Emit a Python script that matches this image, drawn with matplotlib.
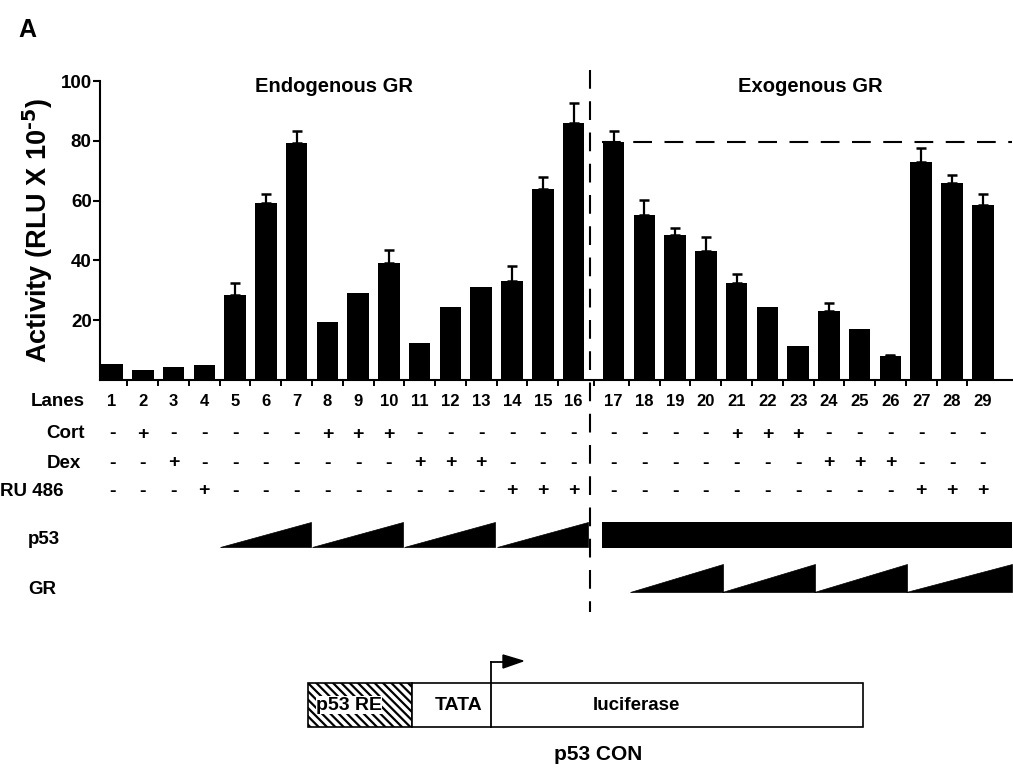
import numpy as np
import matplotlib
matplotlib.use('Agg')
import matplotlib.pyplot as plt
from matplotlib.patches import Polygon, Rectangle
from matplotlib.transforms import blended_transform_factory

plt.rcParams['font.family'] = ['Liberation Sans', 'DejaVu Sans']
plt.rcParams['font.weight'] = 'bold'
plt.rcParams['hatch.linewidth'] = 1.6

lanes = list(range(1, 30))
activity = [5.4, 3.4, 4.4, 5.0, 28.4, 59.2, 79.3, 19.5, 29.0, 39.0, 12.5, 24.5, 31.0, 33.0, 64.0, 86.0,
            79.6, 55.2, 48.5, 43.2, 32.3, 24.5, 11.3, 23.2, 17.1, 7.9, 72.8, 65.8, 58.4]
err = [0, 0, 0, 0, 4.0, 3.0, 4.0, 0, 0, 4.5, 0, 0, 0, 5.0, 4.0, 6.5,
       3.7, 5.0, 2.5, 4.6, 3.1, 0, 0, 2.6, 0, 0.6, 4.9, 2.8, 3.7]
cort = [2, 8, 9, 10, 21, 22, 23]
dex = [3, 11, 12, 13, 24, 25, 26]
ru486 = [4, 14, 15, 16, 27, 28, 29]
p53_groups = [(5, 7), (8, 10), (11, 13), (14, 16)]
gr_groups = [(18, 20), (21, 23), (24, 26), (27, 29)]

W, H = 1013, 771
fig = plt.figure(figsize=(W / 100, H / 100), dpi=100)

# lane positions: small extra gap between endogenous and exogenous halves
x = np.array([l - 1 + (0.3 if l > 16 else 0) for l in lanes], dtype=float)
xmin, xmax = -0.39, 29.25

ax = fig.add_axes([100 / W, 1 - 380 / H, (1012 - 100) / W, (380 - 81) / H])
ax.set_facecolor('none')
ax.bar(x, activity, width=0.7, color='black', zorder=2)
m = np.array(err) > 0
ax.errorbar(x[m], np.array(activity)[m], yerr=[np.zeros(m.sum()), np.array(err)[m]],
            fmt='none', ecolor='black', elinewidth=1.6, capsize=3.5, capthick=1.8, zorder=1)
ax.set_xlim(xmin, xmax)
ax.set_ylim(0, 100)
ax.set_yticks([20, 40, 60, 80, 100])
ax.set_yticklabels(['20', '40', '60', '80', '100'], fontsize=13.5, fontweight='bold')
ax.set_xticks([])
ax.set_xticks((x[:-1] + x[1:]) / 2, minor=True)
ax.tick_params(axis='x', which='minor', length=4, width=1.4, direction='out')
ax.tick_params(axis='y', length=5, width=1.5, pad=1)
for s in ['top', 'right']:
    ax.spines[s].set_visible(False)
ax.spines['left'].set_linewidth(1.5)
ax.spines['bottom'].set_linewidth(1.5)
ax.set_ylabel('Activity (RLU X 10$^{\\mathbf{\\text{-5}}}$)', fontsize=19.5, fontweight='bold', labelpad=4)

ax.text(7.2, 98, 'Endogenous GR', ha='center', va='center', fontsize=14.5, fontweight='bold')
ax.text(22.7, 98, 'Exogenous GR', ha='center', va='center', fontsize=14.5, fontweight='bold')

# reference level of lane 17
ax.plot([x[16] - 0.38, xmax], [activity[16], activity[16]], color='black', lw=1.5,
        dashes=(9, 6), zorder=3)

# overlay in pixel coordinates for the annotations below the axis
ov = fig.add_axes([0, 0, 1, 1])
ov.set_xlim(0, W)
ov.set_ylim(H, 0)
ov.axis('off')
tr = blended_transform_factory(ax.transData, ov.transData)

xdiv = 15.55
ov.plot([xdiv, xdiv], [70, 612], color='black', lw=1.5, dashes=(9, 6), transform=tr, clip_on=False)

ov.text(18, 30, 'A', fontsize=18, fontweight='bold', va='center')

rows = [('Lanes', 85, 401, 'right'), ('Cort', 85, 434, 'right'), ('Dex', 81, 463, 'right'),
        ('RU 486', 0, 491, 'left'), ('p53', 28, 539, 'left'), ('GR', 28, 590, 'left')]
for lab, px, py, ha in rows:
    ov.text(px, py, lab, ha=ha, va='center', fontsize=13.5, fontweight='bold')

for xi, l in zip(x, lanes):
    ov.text(xi, 401, str(l), ha='center', va='center', fontsize=12, fontweight='bold', transform=tr)
    for py, grp in [(434, cort), (463, dex), (491, ru486)]:
        ov.text(xi, py, '+' if l in grp else '-', ha='center', va='center', fontsize=14,
                fontweight='bold', transform=tr)

def wedge(x0, x1, ybot, ytop):
    ov.add_patch(Polygon([(x0, ybot), (x1, ybot), (x1, ytop)], closed=True, facecolor='black',
                         edgecolor='black', lw=0.5, transform=tr, clip_on=False))

for a, b in p53_groups:
    wedge(x[a - 1] - 0.5, x[b - 1] + 0.46, 547, 522)
ov.add_patch(Rectangle((15.94, 522), xmax - 15.94, 26, facecolor='black', transform=tr, clip_on=False))
for i, (a, b) in enumerate(gr_groups):
    x1 = xmax if i == len(gr_groups) - 1 else x[b - 1] + 0.55
    wedge(x[a - 1] - 0.48, x1, 592, 564)

# promoter construct
ov.add_patch(Rectangle((308, 683), 104, 44, facecolor='white', edgecolor='black', hatch='\\\\\\\\', lw=1.2))
ov.add_patch(Rectangle((412, 683), 451, 44, facecolor='white', edgecolor='black', lw=1.2))
ov.plot([491, 491], [727, 662], color='black', lw=1.3)
ov.plot([491, 505], [662, 662], color='black', lw=1.3)
ov.add_patch(Polygon([(503, 655), (523, 661), (503, 668)], closed=True, facecolor='black', edgecolor='black'))
ov.text(349, 705, 'p53 RE', ha='center', va='center', fontsize=14, fontweight='bold',
        bbox=dict(facecolor='white', edgecolor='none', pad=0.3))
ov.text(459, 705, 'TATA', ha='center', va='center', fontsize=14, fontweight='bold')
ov.text(636, 705, 'luciferase', ha='center', va='center', fontsize=13.5, fontweight='bold')
ov.text(598, 755, 'p53 CON', ha='center', va='center', fontsize=15, fontweight='bold')

fig.savefig('out.png', dpi=100)
